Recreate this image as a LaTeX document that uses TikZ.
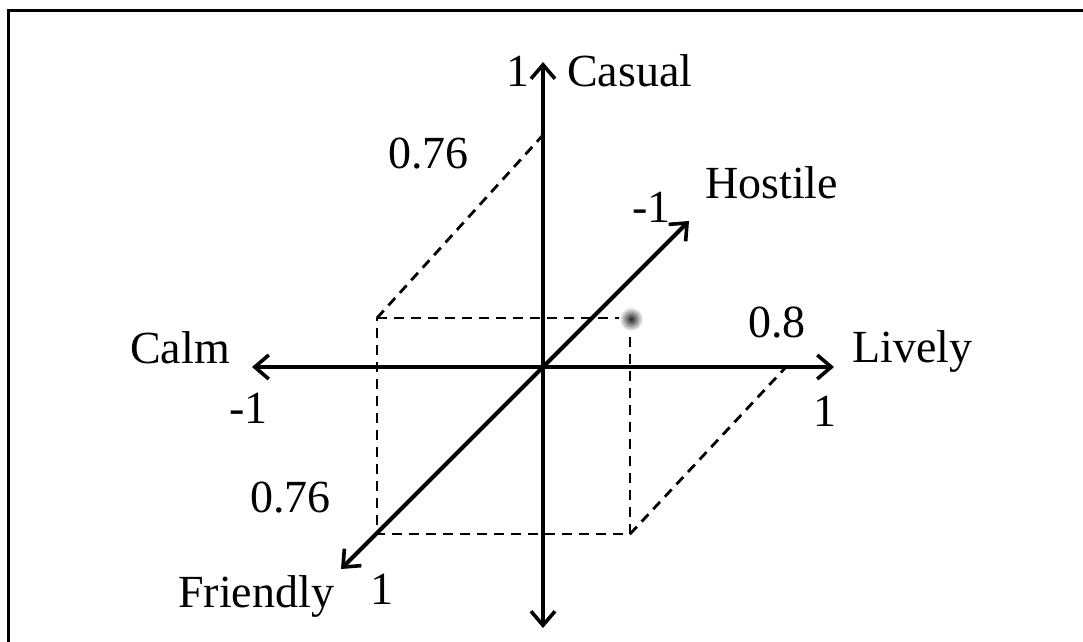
\documentclass[tikz,border=0pt]{standalone}
\usepackage{fontspec}
\setmainfont{Liberation Serif}
\usetikzlibrary{arrows.meta}
\begin{document}
\begin{tikzpicture}[x=1pt,y=-1pt,
  axis/.style={line width=4pt, {Straight Barb[length=14pt,width=24pt,line width=3.6pt]}-{Straight Barb[length=14pt,width=24pt,line width=3.6pt]}},
  guide/.style={line width=2.8pt, dash pattern=on 10pt off 7pt},
  lbl/.style={inner sep=0pt, anchor=base west, font=\fontsize{46}{54}\selectfont}]
\useasboundingbox (0,0) rectangle (1083,641);
\draw[line width=3pt] (8,700) -- (8,10) -- (1100,10);
% coordinates
\coordinate (O) at (543,367);
\coordinate (top) at (543,62);
\coordinate (bot) at (543,628);
\coordinate (left) at (252,367);
\coordinate (right) at (834,367);
\coordinate (fr) at (341,569);
\coordinate (ho) at (689,221);
\coordinate (tl) at (377,318);
\coordinate (tr) at (630,318);
\coordinate (bl) at (377,534);
\coordinate (br) at (630,534);
\coordinate (cas) at (543,135);
\coordinate (liv) at (786,367);
% dashed guides
\draw[guide] (tl) -- (tr) -- (br) -- (bl) -- cycle;
\draw[guide] (tl) -- (cas);
\draw[guide] (br) -- (liv);
% axes
\draw[axis] (top) -- (bot);
\draw[axis] (left) -- (right);
\draw[axis] (fr) -- (ho);
% point
\shade[inner color=black!85, outer color=white] (631,319) circle (12);
% labels
\node[lbl] (n1c) at (506,86) {1};
\node[lbl] (casual) at (567,86) {Casual};
\node[lbl] (v76a) at (388,168) {0.76};
\node[lbl] (hostile) at (705,198) {Hostile};
\node[lbl] (m1h) at (632,222) {-1};
\node[lbl] (calm) at (130,363) {Calm};
\node[lbl] (v08) at (748,337) {0.8};
\node[lbl] (lively) at (852,362) {Lively};
\node[lbl] (m1c) at (229,423) {-1};
\node[lbl] (n1l) at (813,426) {1};
\node[lbl] (v76b) at (250,512) {0.76};
\node[lbl] (friendly) at (178,607) {Friendly};
\node[lbl] (n1f) at (370,604) {1};
\end{tikzpicture}
\end{document}
